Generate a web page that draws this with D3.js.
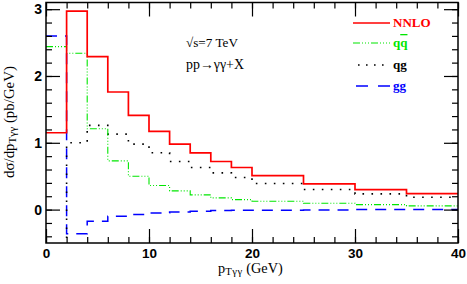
<!DOCTYPE html>
<html>
<head>
<meta charset="utf-8">
<script src="https://cdn.jsdelivr.net/npm/d3@7"></script>
<style>
  body { margin: 0; background: #fff; }
  svg { display: block; }
</style>
</head>
<body>
<svg id="chart" width="467" height="284"></svg>
<script>
// bin edges in pT (GeV)
const binEdges = [0, 2, 4, 6, 8, 10, 12, 14, 16, 18, 20, 25, 30, 35, 40];

// dσ/dpT per bin (pb/GeV)
const nnlo = [1.15, 2.97, 2.29, 1.76, 1.41, 1.17, 0.98, 0.85, 0.72, 0.63, 0.51, 0.385, 0.30, 0.24];
const qqbar = [2.44, 2.34, 1.21, 0.73, 0.50, 0.36, 0.28, 0.22, 0.175, 0.15, 0.125, 0.095, 0.075, 0.055];
const qg = [-3.89, 1.00, 1.26, 1.13, 0.98, 0.85, 0.72, 0.63, 0.55, 0.48, 0.39, 0.30, 0.235, 0.185];
const gg = [2.60, -0.36, -0.175, -0.10, -0.075, -0.05, -0.035, -0.025, -0.015, -0.01, -0.01, -0.005, 0, 0];

const xMajor = [0, 10, 20, 30, 40];
const yMajor = [0, 1, 2, 3];

const width = 467;
const height = 284;
const margin = { top: 2.5, right: 9, bottom: 41, left: 46 };

const svg = d3.select("#chart");

const x = d3.scaleLinear()
    .domain([0, 40])
    .range([margin.left, width - margin.right]);

const y = d3.scaleLinear()
    .domain([-0.5, 3.1])
    .range([height - margin.bottom, margin.top]);

// clip so the off-scale qg bin does not leak out of the frame
svg.append("clipPath")
    .attr("id", "plot-clip")
    .append("rect")
    .attr("x", x(0))
    .attr("y", y(3.1))
    .attr("width", x(40) - x(0))
    .attr("height", y(-0.5) - y(3.1));

const series = [
    { name: "gg", values: gg, color: "#0000ff", width: 1.5, dash: "11,8" },
    { name: "qg", values: qg, color: "#000000", width: 1.6, dash: "1.6,7.4" },
    { name: "qqbar", values: qqbar, color: "#00e600", width: 1.1, dash: "7,2,1,2,1,2,1,2" },
    { name: "nnlo", values: nnlo, color: "#ff0000", width: 1.7, dash: null }
];

// Turn a histogram into step points
function steps(values) {
    const pts = [];
    values.forEach((v, i) => {
        pts.push([binEdges[i], v]);
        pts.push([binEdges[i + 1], v]);
    });
    return pts;
}

const line = d3.line()
    .x(d => x(d[0]))
    .y(d => y(d[1]));

const plot = svg.append("g").attr("clip-path", "url(#plot-clip)");

series.forEach(s => {
    plot.append("path")
        .datum(steps(s.values))
        .attr("fill", "none")
        .attr("stroke", s.color)
        .attr("stroke-width", s.width)
        .attr("stroke-dasharray", s.dash)
        .attr("d", line);
});

// Axes: ticks pointing inward, mirrored on all four sides
const xMinor = d3.range(0, 40.01, 2);
const yMinor = d3.range(-0.4, 3.05, 0.2).map(v => +v.toFixed(1));

function styleAxis(g) {
    g.select(".domain").remove();
    g.selectAll("line").attr("stroke", "#000").attr("stroke-width", 1.2);
}

svg.append("g")
    .attr("transform", `translate(0,${y(-0.5)})`)
    .call(d3.axisBottom(x).tickValues(xMinor).tickSize(-6).tickFormat(""))
    .call(styleAxis);
svg.append("g")
    .attr("transform", `translate(0,${y(-0.5)})`)
    .call(d3.axisBottom(x).tickValues(xMajor).tickSize(-14).tickPadding(5).tickFormat(d3.format("d")))
    .call(styleAxis)
    .call(g => g.selectAll("text")
        .attr("fill", "#000")
        .attr("font-family", "Liberation Sans, Arial, sans-serif")
        .attr("font-weight", "bold")
        .attr("font-size", 13.5));

svg.append("g")
    .attr("transform", `translate(0,${y(3.1)})`)
    .call(d3.axisTop(x).tickValues(xMinor).tickSize(-6).tickFormat(""))
    .call(styleAxis);
svg.append("g")
    .attr("transform", `translate(0,${y(3.1)})`)
    .call(d3.axisTop(x).tickValues(xMajor).tickSize(-14).tickFormat(""))
    .call(styleAxis);

svg.append("g")
    .attr("transform", `translate(${x(0)},0)`)
    .call(d3.axisLeft(y).tickValues(yMinor).tickSize(-6).tickFormat(""))
    .call(styleAxis);
svg.append("g")
    .attr("transform", `translate(${x(0)},0)`)
    .call(d3.axisLeft(y).tickValues(yMajor).tickSize(-14).tickPadding(4).tickFormat(d3.format("d")))
    .call(styleAxis)
    .call(g => g.selectAll("text")
        .attr("fill", "#000")
        .attr("font-family", "Liberation Sans, Arial, sans-serif")
        .attr("font-weight", "bold")
        .attr("font-size", 14));

svg.append("g")
    .attr("transform", `translate(${x(40)},0)`)
    .call(d3.axisRight(y).tickValues(yMinor).tickSize(-6).tickFormat(""))
    .call(styleAxis);
svg.append("g")
    .attr("transform", `translate(${x(40)},0)`)
    .call(d3.axisRight(y).tickValues(yMajor).tickSize(-14).tickFormat(""))
    .call(styleAxis);

// Frame
svg.append("rect")
    .attr("x", x(0))
    .attr("y", y(3.1))
    .attr("width", x(40) - x(0))
    .attr("height", y(-0.5) - y(3.1))
    .attr("fill", "none")
    .attr("stroke", "#000")
    .attr("stroke-width", 1.5);

const serif = "Liberation Serif, Times New Roman, serif";

// Scale a text's font size so its rendered length matches the target
function fitLength(text, target) {
    const base = +text.attr("font-size");
    const len = text.node().getComputedTextLength();
    if (len > 0) text.attr("font-size", base * target / len);
}

// Annotation
svg.append("text")
    .attr("x", 186).attr("y", 47)
    .attr("font-family", serif).attr("font-size", 14)
    .text("√s=7 TeV")
    .call(t => fitLength(t, 52));
svg.append("text")
    .attr("x", 186).attr("y", 69)
    .attr("font-family", serif).attr("font-size", 14)
    .text("pp→γγ+X")
    .call(t => fitLength(t, 58));

// Legend
const legendItems = [
    { label: "NNLO", color: "#ff0000", width: 1.7, dash: null, y: 23, x0: 353 },
    { label: "qq", color: "#00e600", width: 1.1, dash: "7,2,1,2,1,2,1,2", y: 43, x0: 353 },
    { label: "qg", color: "#000000", width: 1.6, dash: "1.6,6.4", y: 65, x0: 358 },
    { label: "gg", color: "#0000ff", width: 1.5, dash: "12,10", y: 86, x0: 356 }
];

const legend = svg.append("g");
legendItems.forEach(d => {
    legend.append("line")
        .attr("x1", d.x0).attr("x2", 390)
        .attr("y1", d.y).attr("y2", d.y)
        .attr("stroke", d.color)
        .attr("stroke-width", d.width)
        .attr("stroke-dasharray", d.dash);
    const t = legend.append("text")
        .attr("x", 393).attr("y", d.y + 4)
        .attr("font-family", serif)
        .attr("font-size", 13)
        .attr("font-weight", "bold")
        .attr("fill", d.color);
    if (d.label === "qq") {
        t.append("tspan").text("q");
        t.append("tspan").style("text-decoration", "overline").text("q");
    } else {
        t.text(d.label);
    }
});

// X axis label
const xl = svg.append("text")
    .attr("x", 218)
    .attr("y", 273)
    .attr("font-family", serif)
    .attr("font-size", 13);
xl.append("tspan").text("p");
xl.append("tspan").attr("font-size", "0.75em").attr("dy", 2).attr("letter-spacing", 0.5).text("Tγγ");
xl.append("tspan").attr("dy", -2).text(" (GeV)");
fitLength(xl, 65);

// Y axis label, sized and placed from its on-screen box (spans y 66..178)
const yl = svg.append("text")
    .attr("transform", `translate(14,123) rotate(-90)`)
    .attr("text-anchor", "middle")
    .attr("font-family", serif)
    .attr("font-size", 13);
yl.append("tspan").text("dσ/dp");
yl.append("tspan").attr("font-size", "0.75em").attr("dy", 2).text("Tγγ");
yl.append("tspan").attr("dy", -2).text(" (pb/GeV)");
{
    const svgTop = svg.node().getBoundingClientRect().top;
    let r = yl.node().getBoundingClientRect();
    yl.attr("font-size", 13 * 112 / r.height);
    r = yl.node().getBoundingClientRect();
    const mid = (r.top + r.bottom) / 2 - svgTop;
    yl.attr("transform", `translate(14,${123 + (122 - mid)}) rotate(-90)`);
}
</script>
</body>
</html>
